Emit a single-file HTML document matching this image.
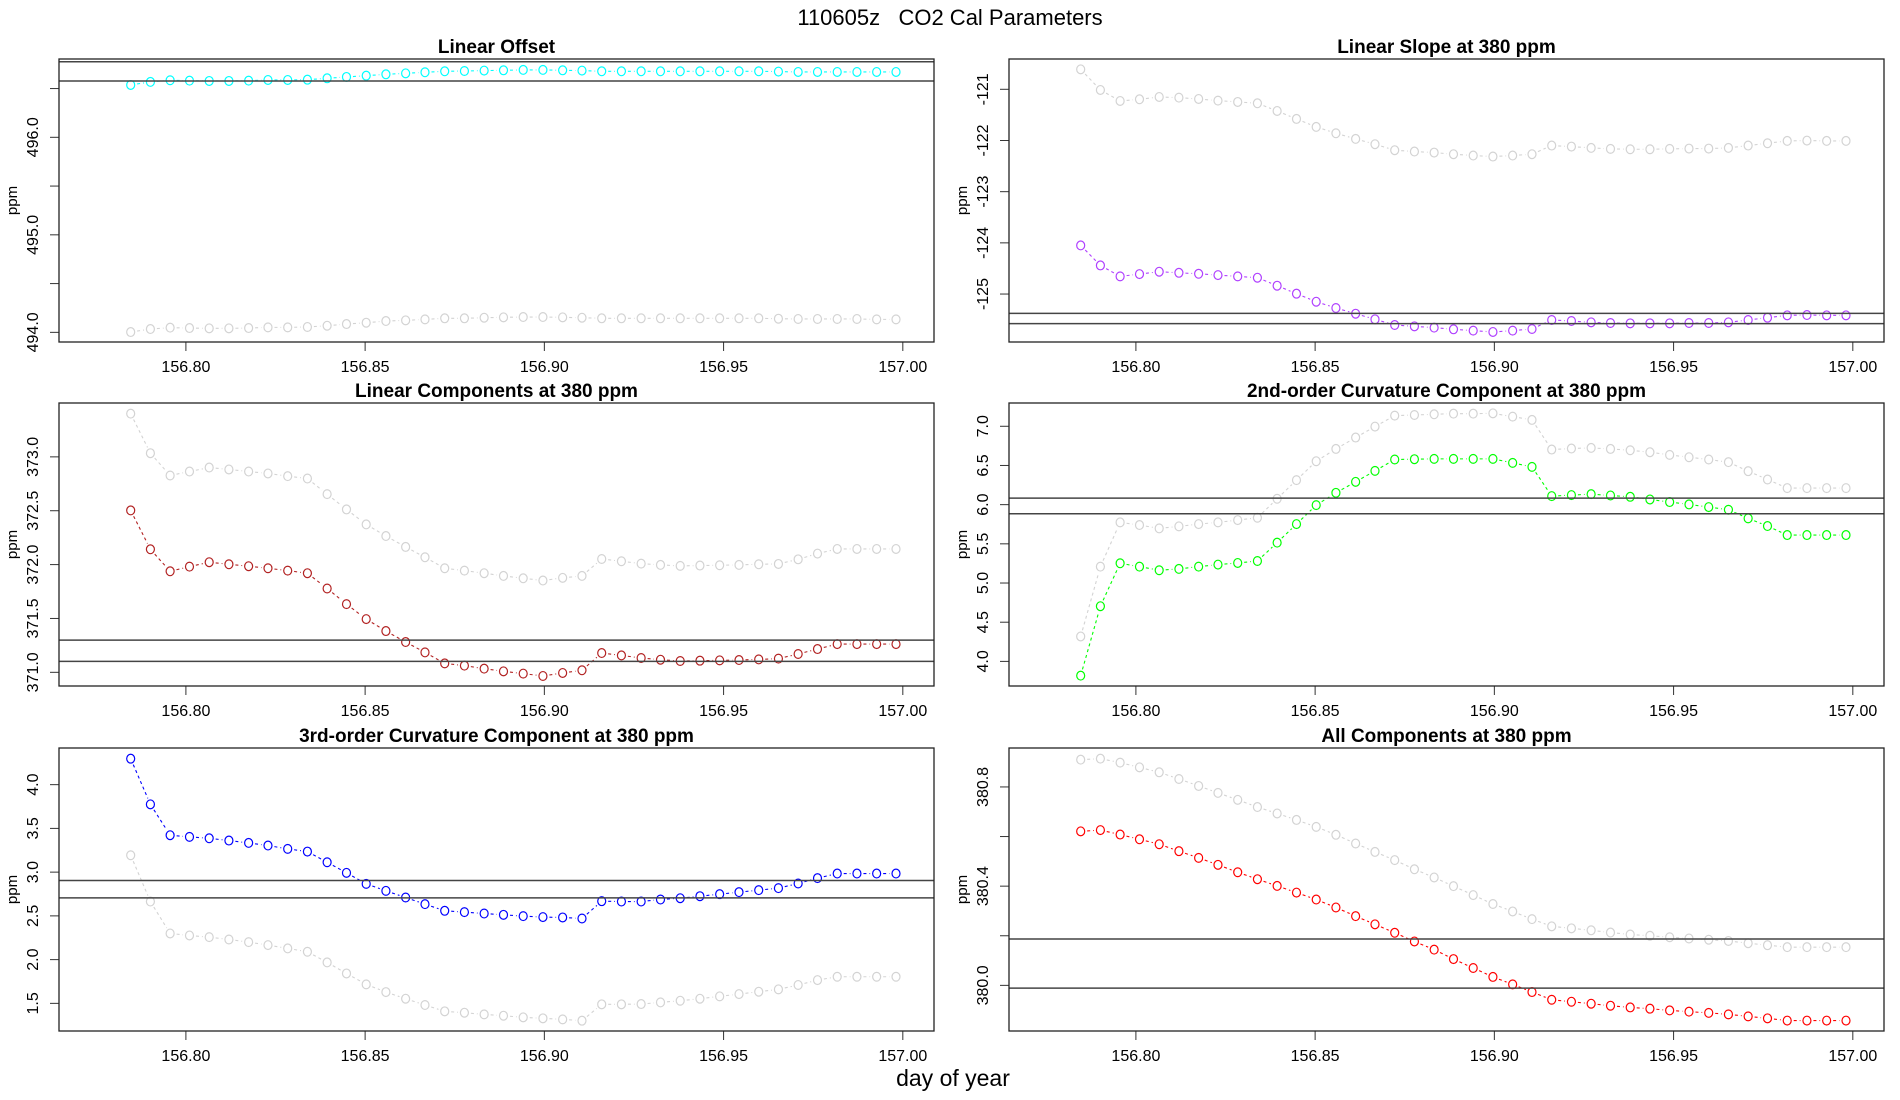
<!DOCTYPE html>
<html><head><meta charset="utf-8"><title>110605z CO2 Cal Parameters</title>
<style>
html,body{margin:0;padding:0;background:#fff;}
svg{display:block;font-family:"Liberation Sans",sans-serif;}
</style></head>
<body>
<svg id="chart" width="1900" height="1100" viewBox="0 0 1900 1100" xmlns="http://www.w3.org/2000/svg">
<rect x="0" y="0" width="1900" height="1100" fill="#fff"/>
<text x="950" y="25" text-anchor="middle" font-size="22">110605z&#160;&#160;&#160;CO2 Cal Parameters</text>
<text x="953" y="1086" text-anchor="middle" font-size="23">day of year</text>
</svg>
<script>
const times = [156.7846,156.7901,156.7956,156.8010,156.8065,156.8120,156.8175,156.8229,156.8284,156.8339,156.8394,156.8448,156.8503,156.8558,156.8613,156.8667,156.8722,156.8777,156.8832,156.8886,156.8941,156.8996,156.9051,156.9105,156.9160,156.9215,156.9270,156.9324,156.9379,156.9434,156.9489,156.9543,156.9598,156.9653,156.9708,156.9762,156.9817,156.9872,156.9927,156.9981];
const xTicks = [156.80,156.85,156.90,156.95,157.00];
const xTickLabels = ["156.80","156.85","156.90","156.95","157.00"];

const offsetMain = [496.537,496.568,496.585,496.581,496.578,496.578,496.581,496.588,496.588,496.591,496.605,496.619,496.632,496.646,496.656,496.667,496.677,496.680,496.684,496.687,496.691,496.691,496.687,496.684,496.677,496.677,496.677,496.677,496.677,496.677,496.677,496.677,496.677,496.674,496.670,496.670,496.670,496.670,496.670,496.670];
const offsetRef = [494.003,494.034,494.048,494.044,494.041,494.041,494.044,494.051,494.051,494.055,494.068,494.085,494.099,494.116,494.123,494.133,494.144,494.144,494.150,494.154,494.157,494.157,494.154,494.150,494.144,494.144,494.144,494.144,494.144,494.144,494.144,494.144,494.144,494.140,494.137,494.137,494.137,494.137,494.133,494.133];
const offsetLines = [496.775,496.578];
const offsetTicks = [494.0,494.5,495.0,495.5,496.0,496.5];
const offsetTickLabels = ["494.0","","495.0","","496.0",""];

const slopeMain = [-124.050,-124.441,-124.655,-124.610,-124.564,-124.585,-124.604,-124.630,-124.655,-124.681,-124.837,-124.993,-125.150,-125.273,-125.384,-125.494,-125.605,-125.631,-125.657,-125.689,-125.715,-125.741,-125.715,-125.683,-125.507,-125.527,-125.553,-125.566,-125.572,-125.572,-125.572,-125.566,-125.566,-125.553,-125.507,-125.462,-125.416,-125.410,-125.416,-125.416];
const slopeRef = [-120.610,-121.013,-121.228,-121.195,-121.150,-121.163,-121.189,-121.221,-121.247,-121.273,-121.423,-121.579,-121.735,-121.859,-121.969,-122.073,-122.190,-122.216,-122.236,-122.268,-122.294,-122.314,-122.294,-122.268,-122.099,-122.119,-122.145,-122.164,-122.171,-122.171,-122.164,-122.158,-122.158,-122.145,-122.099,-122.054,-122.008,-122.002,-122.008,-122.008];
const slopeLines = [-125.377,-125.579];
const slopeTicks = [-125,-124,-123,-122,-121];
const slopeTickLabels = ["-125","-124","-123","-122","-121"];

const linMain = [372.503,372.142,371.938,371.981,372.022,372.003,371.985,371.966,371.944,371.920,371.778,371.633,371.494,371.383,371.281,371.185,371.083,371.062,371.034,371.009,370.988,370.966,370.994,371.019,371.179,371.157,371.133,371.117,371.105,371.108,371.111,371.114,371.120,371.127,371.170,371.216,371.262,371.262,371.262,371.262];
const linRef = [373.401,373.034,372.827,372.864,372.901,372.883,372.864,372.846,372.821,372.799,372.654,372.512,372.373,372.265,372.164,372.068,371.966,371.944,371.920,371.895,371.873,371.852,371.877,371.895,372.052,372.031,372.009,371.997,371.988,371.991,371.994,371.997,372.003,372.006,372.049,372.102,372.145,372.145,372.145,372.145];
const linLines = [371.299,371.102];
const linTicks = [371.0,371.5,372.0,372.5,373.0];
const linTickLabels = ["371.0","371.5","372.0","372.5","373.0"];

const c2Main = [3.818,4.704,5.252,5.209,5.163,5.180,5.209,5.235,5.256,5.281,5.515,5.752,5.994,6.151,6.291,6.431,6.576,6.580,6.584,6.584,6.584,6.584,6.533,6.482,6.109,6.122,6.134,6.117,6.100,6.066,6.033,6.003,5.969,5.935,5.825,5.727,5.612,5.612,5.612,5.612];
const c2Ref = [4.318,5.209,5.774,5.740,5.697,5.723,5.752,5.774,5.803,5.833,6.075,6.313,6.554,6.711,6.856,6.996,7.136,7.144,7.153,7.161,7.161,7.165,7.123,7.081,6.703,6.716,6.724,6.711,6.694,6.669,6.635,6.605,6.576,6.542,6.427,6.321,6.211,6.211,6.211,6.211];
const c2Lines = [6.083,5.884];
const c2Ticks = [4.0,4.5,5.0,5.5,6.0,6.5,7.0];
const c2TickLabels = ["4.0","4.5","5.0","5.5","6.0","6.5","7.0"];

const c3Main = [4.297,3.775,3.422,3.403,3.387,3.361,3.334,3.304,3.266,3.235,3.113,2.992,2.866,2.786,2.710,2.634,2.558,2.543,2.527,2.512,2.497,2.486,2.482,2.470,2.668,2.664,2.664,2.687,2.702,2.725,2.748,2.771,2.794,2.817,2.870,2.931,2.984,2.984,2.984,2.984];
const c3Ref = [3.193,2.664,2.299,2.276,2.257,2.230,2.200,2.166,2.128,2.090,1.968,1.842,1.717,1.629,1.553,1.481,1.409,1.393,1.374,1.359,1.340,1.329,1.317,1.302,1.489,1.489,1.492,1.511,1.530,1.553,1.580,1.606,1.633,1.660,1.710,1.766,1.804,1.804,1.804,1.804];
const c3Lines = [2.904,2.706];
const c3Ticks = [1.5,2.0,2.5,3.0,3.5,4.0];
const c3TickLabels = ["1.5","2.0","2.5","3.0","3.5","4.0"];

const allMain = [380.621,380.626,380.608,380.589,380.569,380.541,380.514,380.486,380.456,380.428,380.401,380.374,380.346,380.314,380.279,380.246,380.212,380.177,380.144,380.106,380.070,380.034,380.004,379.973,379.942,379.934,379.926,379.918,379.911,379.906,379.899,379.894,379.889,379.883,379.875,379.867,379.858,379.858,379.858,379.858];
const allRef = [380.910,380.914,380.898,380.879,380.859,380.832,380.804,380.776,380.748,380.719,380.693,380.667,380.639,380.607,380.572,380.538,380.505,380.468,380.435,380.400,380.364,380.328,380.298,380.267,380.238,380.230,380.222,380.213,380.205,380.200,380.194,380.189,380.184,380.179,380.170,380.162,380.154,380.154,380.154,380.154];
const allLines = [380.187,379.989];
const allTicks = [380.0,380.2,380.4,380.6,380.8];
const allTickLabels = ["380.0","","380.4","","380.8"];

const NS = "http://www.w3.org/2000/svg";
const svg = document.getElementById('chart');
const X0 = 156.7646, X1 = 157.0087;
function mk(tag, attrs, parent){
  const e = document.createElementNS(NS, tag);
  for (const k in attrs) e.setAttribute(k, attrs[k]);
  parent.appendChild(e);
  return e;
}
function drawSeries(g, xs, ys, sx, sy, color, name){
  const sg = mk('g', {}, g);
  
  
  const gap = 6.5;
  for (let i = 0; i < xs.length - 1; i++){
    const x1 = sx(xs[i]), y1 = sy(ys[i]), x2 = sx(xs[i+1]), y2 = sy(ys[i+1]);
    const dx = x2 - x1, dy = y2 - y1, L = Math.hypot(dx, dy);
    if (L <= 2*gap + 0.5) continue;
    const ux = dx/L, uy = dy/L;
    const seg = mk('line', {x1:x1+ux*gap, y1:y1+uy*gap, x2:x2-ux*gap, y2:y2-uy*gap, stroke:color, 'stroke-width':1.1, 'stroke-dasharray':'3,3'}, sg);
    
    
  }
  for (let i = 0; i < xs.length; i++){
    const c = mk('ellipse', {cx:sx(xs[i]), cy:sy(ys[i]), rx:4, ry:4.4, fill:'none', stroke:color, 'stroke-width':1.2}, sg);
    
    
  }
}
function panel(opts){
  const {left, top, w, h, ymin, ymax, title, main, ref, lines, ticks, labels, color, name} = opts;
  const g = mk('g', {}, svg);
  
  
  const sx = v => left + (v - X0) / (X1 - X0) * w;
  const sy = v => top + (ymax - v) / (ymax - ymin) * h;
  const t = mk('text', {x:left + w/2, y:top - 6, 'text-anchor':'middle', 'font-size':19, 'font-weight':'bold'}, g);
  t.textContent = title;
  
  
  const yl = mk('text', {x:0, y:0, 'text-anchor':'middle', 'font-size':15, transform:`translate(${left-42},${top+h/2}) rotate(-90)`}, g);
  yl.textContent = 'ppm';
  
  
  xTicks.forEach((v, i) => {
    const px = sx(v);
    const tk = mk('line', {x1:px, y1:top+h, x2:px, y2:top+h+9, stroke:'#333', 'stroke-width':1}, g);
    
    
    const tl = mk('text', {x:px, y:top+h+30, 'text-anchor':'middle', 'font-size':16}, g);
    tl.textContent = xTickLabels[i];
    
    
  });
  ticks.forEach((v, i) => {
    const py = sy(v);
    const tk = mk('line', {x1:left-9, y1:py, x2:left, y2:py, stroke:'#333', 'stroke-width':1}, g);
    
    
    if (labels[i]){
      const tl = mk('text', {x:0, y:0, 'text-anchor':'middle', 'font-size':16, transform:`translate(${left-21},${py}) rotate(-90)`}, g);
      tl.textContent = labels[i];
      
      
    }
  });
  drawSeries(g, times, ref, sx, sy, '#d3d3d3', name + '-reference-series');
  drawSeries(g, times, main, sx, sy, color, name + '-main-series');
  lines.forEach(v => {
    const ln = mk('line', {x1:left, y1:sy(v), x2:left+w, y2:sy(v), stroke:'#444', 'stroke-width':1.5}, g);
    
    
  });
  const box = mk('rect', {x:left, y:top, width:w, height:h, fill:'none', stroke:'#222', 'stroke-width':1.3}, g);
  
  
}
const W = 875, H = 283;
panel({left:59, top:59, w:W, h:H, ymin:493.901, ymax:496.803, title:'Linear Offset', main:offsetMain, ref:offsetRef, lines:offsetLines, ticks:offsetTicks, labels:offsetTickLabels, color:'#00ffff', name:'linear-offset-panel'});
panel({left:1009, top:59, w:W, h:H, ymin:-125.937, ymax:-120.408, title:'Linear Slope at 380 ppm', main:slopeMain, ref:slopeRef, lines:slopeLines, ticks:slopeTicks, labels:slopeTickLabels, color:'#b040ff', name:'linear-slope-panel'});
panel({left:59, top:403, w:W, h:H, ymin:370.873, ymax:373.5, title:'Linear Components at 380 ppm', main:linMain, ref:linRef, lines:linLines, ticks:linTicks, labels:linTickLabels, color:'#b22222', name:'linear-components-panel'});
panel({left:1009, top:403, w:W, h:H, ymin:3.686, ymax:7.297, title:'2nd-order Curvature Component at 380 ppm', main:c2Main, ref:c2Ref, lines:c2Lines, ticks:c2Ticks, labels:c2TickLabels, color:'#00ff00', name:'second-order-panel'});
panel({left:59, top:748, w:W, h:H, ymin:1.184, ymax:4.419, title:'3rd-order Curvature Component at 380 ppm', main:c3Main, ref:c3Ref, lines:c3Lines, ticks:c3Ticks, labels:c3TickLabels, color:'#0000ff', name:'third-order-panel'});
panel({left:1009, top:748, w:W, h:H, ymin:379.816, ymax:380.957, title:'All Components at 380 ppm', main:allMain, ref:allRef, lines:allLines, ticks:allTicks, labels:allTickLabels, color:'#ff0000', name:'all-components-panel'});
</script>
</body></html>
